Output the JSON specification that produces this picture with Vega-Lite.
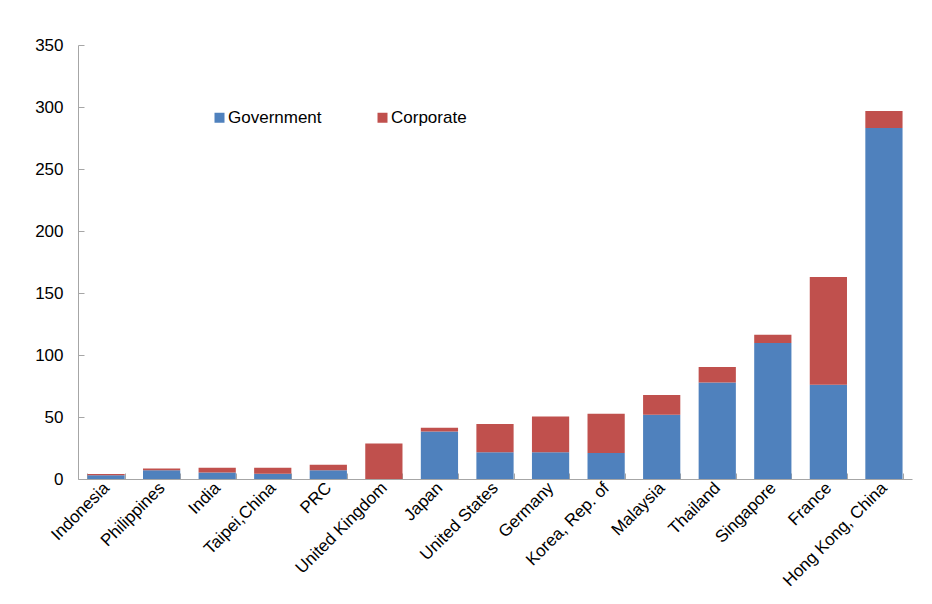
{
  "$schema": "https://vega.github.io/schema/vega-lite/v6.json",
  "width": 834,
  "height": 434,
  "autosize": {"type": "none"},
  "padding": {"left": 78, "top": 45, "right": 20, "bottom": 125},
  "background": "white",
  "config": {
    "view": {"stroke": null},
    "font": "Liberation Sans",
    "axis": {"domainColor": "#A6A6A6", "tickColor": "#A6A6A6", "labelColor": "black", "labelFontSize": 17, "grid": false, "title": null}
  },
  "data": {
    "values": [
      {"country": "Indonesia", "type": "Government", "value": 3.0},
      {"country": "Indonesia", "type": "Corporate", "value": 1.0},
      {"country": "Philippines", "type": "Government", "value": 7.0},
      {"country": "Philippines", "type": "Corporate", "value": 1.4},
      {"country": "India", "type": "Government", "value": 5.3},
      {"country": "India", "type": "Corporate", "value": 3.8},
      {"country": "Taipei,China", "type": "Government", "value": 4.3},
      {"country": "Taipei,China", "type": "Corporate", "value": 4.8},
      {"country": "PRC", "type": "Government", "value": 7.0},
      {"country": "PRC", "type": "Corporate", "value": 4.4},
      {"country": "United Kingdom", "type": "Government", "value": 0},
      {"country": "United Kingdom", "type": "Corporate", "value": 28.7},
      {"country": "Japan", "type": "Government", "value": 38.3},
      {"country": "Japan", "type": "Corporate", "value": 3.1},
      {"country": "United States", "type": "Government", "value": 21.5},
      {"country": "United States", "type": "Corporate", "value": 22.9},
      {"country": "Germany", "type": "Government", "value": 21.5},
      {"country": "Germany", "type": "Corporate", "value": 29.0},
      {"country": "Korea, Rep. of", "type": "Government", "value": 21.0},
      {"country": "Korea, Rep. of", "type": "Corporate", "value": 31.7},
      {"country": "Malaysia", "type": "Government", "value": 51.9},
      {"country": "Malaysia", "type": "Corporate", "value": 15.8},
      {"country": "Thailand", "type": "Government", "value": 77.9},
      {"country": "Thailand", "type": "Corporate", "value": 12.4},
      {"country": "Singapore", "type": "Government", "value": 109.7},
      {"country": "Singapore", "type": "Corporate", "value": 6.7},
      {"country": "France", "type": "Government", "value": 76.0},
      {"country": "France", "type": "Corporate", "value": 86.9},
      {"country": "Hong Kong, China", "type": "Government", "value": 283.1},
      {"country": "Hong Kong, China", "type": "Corporate", "value": 13.7}
    ]
  },
  "mark": {"type": "bar"},
  "encoding": {
    "x": {
      "field": "country",
      "type": "nominal",
      "sort": null,
      "scale": {"paddingInner": 0.33, "paddingOuter": 0.17},
      "axis": {"labelAngle": -45, "tickBand": "extent", "tickSize": -6, "labelPadding": 12, "labelAlign": "right", "labelBaseline": "middle"}
    },
    "y": {
      "field": "value",
      "type": "quantitative",
      "stack": "zero",
      "scale": {"domain": [0, 350]},
      "axis": {"values": [0, 50, 100, 150, 200, 250, 300, 350], "tickSize": -6, "labelPadding": 21}
    },
    "color": {
      "field": "type",
      "type": "nominal",
      "scale": {"domain": ["Government", "Corporate"], "range": ["#4F81BD", "#C0504D"]},
      "legend": {
        "title": null,
        "orient": "none",
        "legendX": 133,
        "legendY": 64,
        "direction": "horizontal",
        "symbolType": "square",
        "symbolSize": 100,
        "symbolStrokeWidth": 0,
        "labelFontSize": 17,
        "labelOffset": 0,
        "columnPadding": 52
      }
    },
    "order": {"field": "type", "sort": "descending"}
  }
}
